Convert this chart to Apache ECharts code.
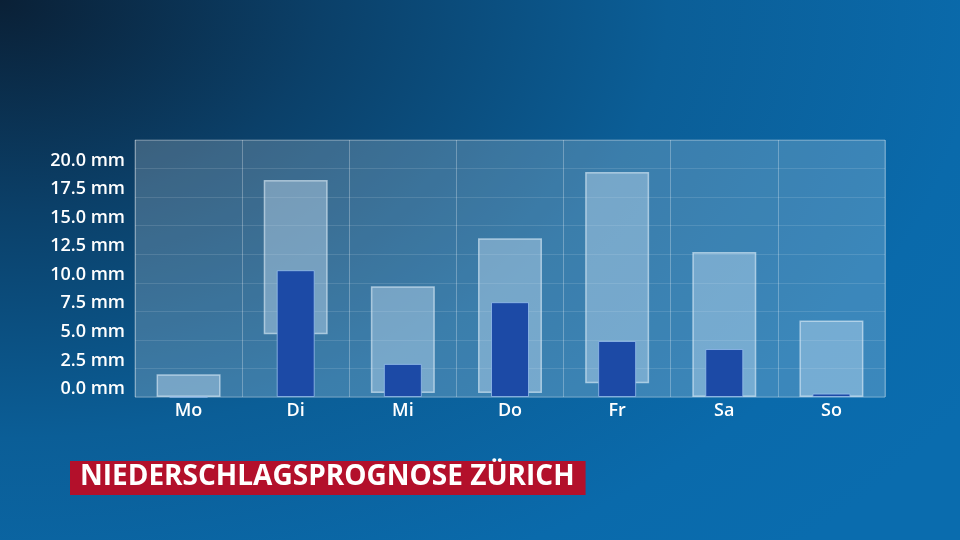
<!DOCTYPE html>
<html>
<head>
<meta charset="utf-8">
<script src="https://cdn.jsdelivr.net/npm/echarts@6/dist/echarts.min.js"></script>
<style>
html,body{margin:0;padding:0;}
#c{width:960px;height:540px;background:radial-gradient(ellipse 120% 140% at 0% 0%,#0a2036 0%,#0b4069 28%,#0b5e97 58%,#0a6aab 85%,#0a6cae 100%);}
</style>
</head>
<body>
<div id="c"></div>
<script>
const days = ['Mo','Di','Mi','Do','Fr','Sa','So'];
const rangeLow = [0, 5.5, 0.35, 0.35, 1.2, 0, 0];
const rangeHigh = [2.0, 19.0, 9.7, 13.9, 19.7, 12.7, 6.7];
const median = [0, 11.1, 2.9, 8.3, 4.9, 4.2, 0.3];
const yTicks = [0, 2.5, 5, 7.5, 10, 12.5, 15, 17.5, 20];

const rangeSpan = rangeHigh.map((h, i) => +(h - rangeLow[i]).toFixed(2));
const font = '"Open Sans", "DejaVu Sans", sans-serif';

const chart = echarts.init(document.getElementById('c'), null, {renderer: 'canvas'});
chart.setOption({
  backgroundColor: 'transparent',
  animation: false,
  title: {
    text: 'NIEDERSCHLAGSPROGNOSE ZÜRICH',
    left: 70, top: 461,
    backgroundColor: '#b3102b',
    padding: [1, 11, 2, 10],
    textStyle: {color: '#fff', fontFamily: font, fontWeight: 'bold', fontSize: 28, lineHeight: 31}
  },
  grid: {
    left: 135, right: 75, top: 140, bottom: 143,
    show: true,
    backgroundColor: 'rgba(255,255,255,0.2)',
    borderColor: 'rgba(255,255,255,0.3)',
    borderWidth: 1
  },
  xAxis: [{
    type: 'category', data: days,
    axisLine: {show: false}, axisTick: {show: false},
    splitLine: {show: true, lineStyle: {color: 'rgba(255,255,255,0.28)', width: 1}},
    axisLabel: {color: '#fff', fontFamily: font, fontWeight: 600, fontSize: 18, margin: 5}
  }, {
    type: 'category', data: days, show: false
  }],
  yAxis: {
    type: 'value', min: 0, max: 22.5, interval: 2.5,
    axisLine: {show: false}, axisTick: {show: false},
    splitLine: {show: true, lineStyle: {color: 'rgba(255,255,255,0.12)', width: 1}},
    axisLabel: {
      color: '#fff', fontFamily: font, fontWeight: 600, fontSize: 18, margin: 10,
      verticalAlign: 'bottom', lineHeight: 16,
      formatter: v => (yTicks.indexOf(v) >= 0 ? v.toFixed(1) + ' mm' : '')
    }
  },
  series: [{
    type: 'bar', stack: 'r', data: rangeLow, barWidth: 64, xAxisIndex: 0,
    itemStyle: {color: 'transparent'}, silent: true
  }, {
    type: 'bar', stack: 'r', data: rangeSpan, barWidth: 64, xAxisIndex: 0,
    itemStyle: {color: 'rgba(200,225,242,0.42)', borderColor: 'rgba(225,240,250,0.6)', borderWidth: 1.5}
  }, {
    type: 'bar', data: median, barWidth: 38, xAxisIndex: 1,
    itemStyle: {color: '#1c4aa6', borderColor: 'rgba(150,190,235,0.8)', borderWidth: 1}
  }]
});
</script>
</body>
</html>
